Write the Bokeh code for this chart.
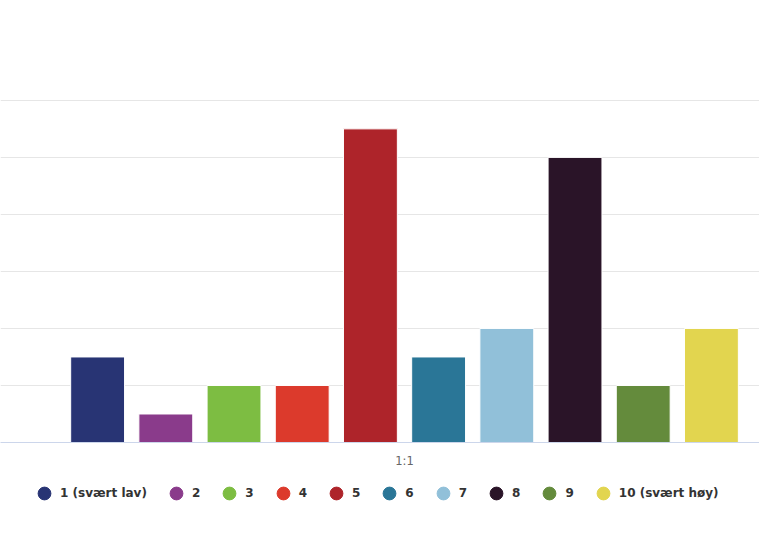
from bokeh.plotting import figure
from bokeh.layouts import column
from bokeh.models import ColumnDataSource, Range1d, FixedTicker, Legend, LegendItem
from bokeh.embed import file_html
from bokeh.resources import INLINE

# ---- data ----
category = "1:1"
series_names = ["1 (svært lav)", "2", "3", "4", "5", "6", "7", "8", "9", "10 (svært høy)"]
series_values = [3, 1, 2, 2, 11, 3, 4, 10, 2, 4]
series_colors = ["#283474", "#8a3b8b", "#7dbd42", "#dc3a2c", "#ae242a",
                 "#2a7697", "#91c0d9", "#2a1428", "#648b3c", "#e2d54f"]
y_ticks = [0, 2, 4, 6, 8, 10, 12]

n = len(series_names)
offsets = [i - (n - 1) / 2 for i in range(n)]

p = figure(frame_width=759, frame_height=345, output_backend="svg", toolbar_location=None,
           x_range=Range1d(-5.924, 5.205), y_range=Range1d(0, 12.1))
p.min_border_top = 97
p.min_border_left = 0
p.min_border_right = 0
p.min_border_bottom = 30
p.outline_line_color = None
p.background_fill_color = "white"
p.border_fill_color = "white"

p.yaxis.visible = False
p.yaxis.ticker = FixedTicker(ticks=y_ticks)
p.ygrid.ticker = FixedTicker(ticks=y_ticks)
p.ygrid.grid_line_color = "#e6e6e6"
p.ygrid.grid_line_width = 1
p.xgrid.visible = False

xa = p.xaxis[0]
xa.ticker = FixedTicker(ticks=[0])
xa.major_label_overrides = {0: category}
xa.major_tick_line_color = None
xa.minor_tick_line_color = None
xa.major_tick_out = 0
xa.major_tick_in = 0
xa.major_label_standoff = 11
xa.axis_line_color = "#ccd6eb"
xa.major_label_text_color = "#666666"
xa.major_label_text_font = "DejaVu Sans"
xa.major_label_text_font_size = "11.5px"

for val, col, off in zip(series_values, series_colors, offsets):
    src = ColumnDataSource(dict(x=[off], top=[val]))
    p.vbar(x="x", top="top", width=0.79, source=src, fill_color=col,
           line_color="white", line_width=1)

# legend strip below the chart
lg = figure(frame_width=759, frame_height=67, output_backend="svg", toolbar_location=None,
            x_range=Range1d(0, 1), y_range=Range1d(0, 1))
lg.min_border_top = 0
lg.min_border_bottom = 0
lg.min_border_left = 0
lg.min_border_right = 0
lg.outline_line_color = None
lg.axis.visible = False
lg.grid.visible = False
lg.background_fill_color = "white"
lg.border_fill_color = "white"

nan = float("nan")
items = []
for name, col in zip(series_names, series_colors):
    mk = lg.scatter(x="x", y="y", source=ColumnDataSource(dict(x=[nan], y=[nan])),
                    marker="circle", fill_color=col, line_color=col)
    items.append(LegendItem(label=name, renderers=[mk]))

legend = Legend(items=items, orientation="horizontal", location=(28, 30), nrows=1,
                glyph_width=32, glyph_height=32, label_standoff=0, spacing=13,
                label_width=5, padding=5, margin=0, border_line_color=None,
                background_fill_alpha=0,
                label_text_font="DejaVu Sans", label_text_font_style="bold",
                label_text_font_size="12px", label_text_color="#333333")
lg.add_layout(legend, "center")

layout = column(p, lg, spacing=0)
open("out.html", "w").write(file_html(layout, INLINE))
